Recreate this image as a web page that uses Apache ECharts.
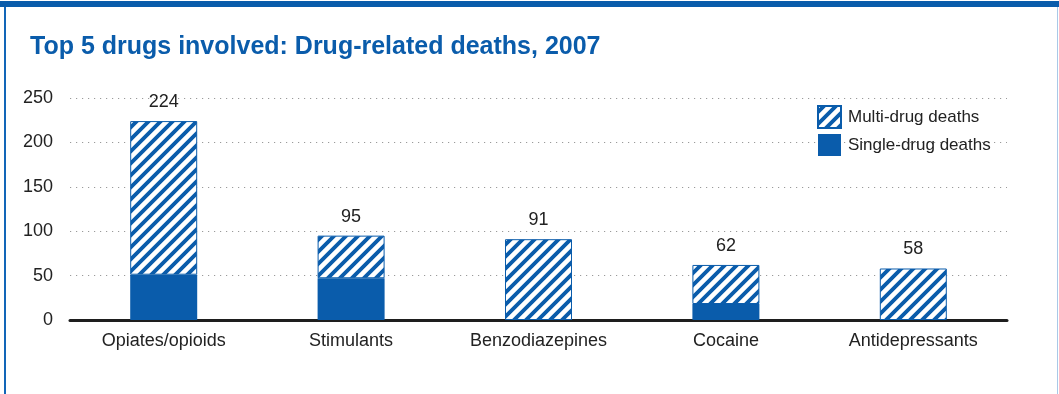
<!DOCTYPE html>
<html>
<head>
<meta charset="utf-8">
<script src="https://cdn.jsdelivr.net/npm/echarts@6/dist/echarts.min.js"></script>
<style>
  html, body { margin: 0; padding: 0; background: #fff; }
  #frame { position: relative; width: 1059px; height: 394px; overflow: hidden; }
  #topbar { position: absolute; left: 0; top: 1px; width: 1059px; height: 6px; background: #0a5cab; }
  #leftbar { position: absolute; left: 4px; top: 7px; width: 2px; height: 387px; background: #1266b8; }
  #rightbar { position: absolute; left: 1057px; top: 7px; width: 1px; height: 387px; background: #a9c9e8; }
  #chart { position: absolute; left: 0; top: 0; width: 1059px; height: 394px; }
</style>
</head>
<body>
<div id="frame">
  <div id="chart"></div>
  <div id="topbar"></div>
  <div id="leftbar"></div>
  <div id="rightbar"></div>
</div>
<script>
// Drug-related deaths, 2007: the five drugs most often involved
const categories = ['Opiates/opioids', 'Stimulants', 'Benzodiazepines', 'Cocaine', 'Antidepressants'];
const totalDeaths = [224, 95, 91, 62, 58];
const singleDrugDeaths = [51, 47, 0, 18, 0];
const multiDrugDeaths = totalDeaths.map((t, i) => t - singleDrugDeaths[i]);
const yTicks = [0, 50, 100, 150, 200, 250];

const BLUE = '#0a5cab';
const FONT = '"Liberation Sans", Arial, sans-serif';

// Diagonal stripe fill for the multi-drug segments
function stripePattern() {
  const s = 12;
  const c = document.createElement('canvas');
  c.width = s; c.height = s;
  const g = c.getContext('2d');
  g.fillStyle = BLUE;
  g.fillRect(0, 0, s, s);
  g.strokeStyle = '#ffffff';
  g.lineWidth = 4.6;
  g.beginPath();
  for (const k of [-1, 0, 1, 2]) {
    const cst = k * s;
    g.moveTo(cst + s, -s);
    g.lineTo(cst - 2 * s, 2 * s);
  }
  g.stroke();
  return c;
}

const chart = echarts.init(document.getElementById('chart'), null, { renderer: 'canvas' });
chart.setOption({
  animation: false,
  title: {
    text: 'Top 5 drugs involved: Drug-related deaths, 2007',
    left: 25, top: 30,
    textStyle: { color: BLUE, fontFamily: FONT, fontWeight: 'bold', fontSize: 25 }
  },
  legend: {
    orient: 'vertical',
    left: 817, top: 105,
    padding: 0,
    icon: 'rect',
    itemWidth: 23, itemHeight: 22, itemGap: 5,
    data: ['Multi-drug deaths', 'Single-drug deaths'],
    textStyle: { color: '#222', fontFamily: FONT, fontSize: 17, padding: [0, 0, 0, 2] }
  },
  grid: { left: 70, right: 52, top: 98, bottom: 74 },
  xAxis: {
    type: 'category',
    data: categories,
    axisLine: { lineStyle: { color: '#1e1e1e', width: 3 } },
    axisTick: { show: false },
    axisLabel: { color: '#222', fontFamily: FONT, fontSize: 18, margin: 12 }
  },
  yAxis: {
    type: 'value',
    min: yTicks[0], max: yTicks[yTicks.length - 1], interval: 50,
    axisLine: { show: false },
    axisTick: { show: false },
    axisLabel: { color: '#222', fontFamily: FONT, fontSize: 18, margin: 17 },
    splitLine: { lineStyle: { color: '#9a9a9a', width: 1, type: [1.2, 4.8] } }
  },
  series: [
    {
      name: 'Single-drug deaths',
      type: 'bar',
      stack: 'deaths',
      barWidth: 67,
      data: singleDrugDeaths,
      itemStyle: { color: BLUE }
    },
    {
      name: 'Multi-drug deaths',
      type: 'bar',
      stack: 'deaths',
      barWidth: 67,
      data: multiDrugDeaths,
      itemStyle: {
        color: { image: stripePattern(), repeat: 'repeat' },
        borderColor: BLUE, borderWidth: 1
      },
      label: {
        show: true,
        position: 'top',
        distance: 10,
        color: '#222', fontFamily: FONT, fontSize: 18,
        formatter: p => String(totalDeaths[p.dataIndex])
      }
    }
  ]
});
</script>
</body>
</html>
